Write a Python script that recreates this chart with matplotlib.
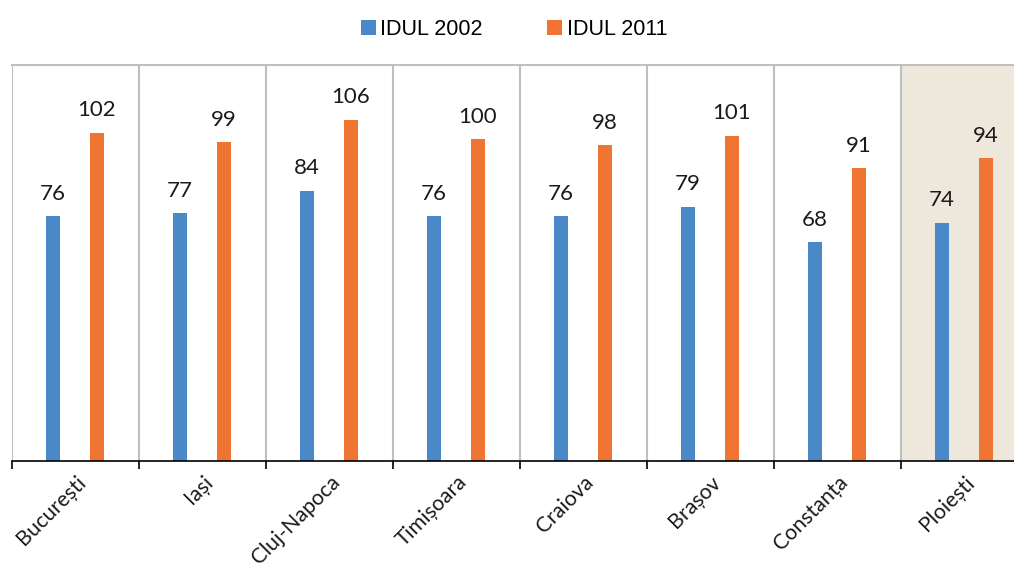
import matplotlib.pyplot as plt
import numpy as np

orase = ["București", "Iași", "Cluj-Napoca", "Timișoara", "Craiova", "Brașov", "Constanța", "Ploiești"]
idul_2002 = [76, 77, 84, 76, 76, 79, 68, 74]
idul_2011 = [102, 99, 106, 100, 98, 101, 91, 94]

albastru = "#4A89C8"
portocaliu = "#F07533"
gri = "#BFBFBF"

fig = plt.figure(figsize=(10.14, 5.70), dpi=100)
ax = fig.add_axes([12 / 1014, 109 / 570, 1016 / 1014, 396 / 570])

x = np.arange(len(orase))
latime = 0.11
b1 = ax.bar(x - 0.177, idul_2002, latime, color=albastru, label="IDUL 2002", zorder=3)
b2 = ax.bar(x + 0.169, idul_2011, latime, color=portocaliu, label="IDUL 2011", zorder=3)

# fundal pentru ultimul oras
ax.axvspan(len(orase) - 1.5, len(orase) - 0.5, color="#EEE7DC", zorder=0)

# separatoare intre categorii
for s in np.arange(-0.5, len(orase), 1.0):
    ax.axvline(s, color=gri, lw=1.5, zorder=1)

for bars in (b1, b2):
    for b in bars:
        ax.annotate(f"{b.get_height():.0f}", (b.get_x() + b.get_width() / 2, b.get_height()),
                    xytext=(0, 9), textcoords="offset points", ha="center", va="bottom",
                    fontsize=16, family="Lato", color="#1a1a1a")

ax.set_xlim(-0.5, len(orase) - 0.5)
ax.set_ylim(0, 123)
ax.set_yticks([])
for sp in ("left", "right"):
    ax.spines[sp].set_visible(False)
ax.spines["top"].set_color(gri)
ax.spines["top"].set_linewidth(1.5)
ax.spines["bottom"].set_color("black")
ax.spines["bottom"].set_linewidth(1.2)
ax.spines["bottom"].set_zorder(4)

ax.set_xticks(x)
ax.set_xticklabels(orase, rotation=45, ha="right", rotation_mode="anchor",
                   fontsize=15.3, family="Lato", color="#1a1a1a")
ax.tick_params(axis="x", which="major", length=0, pad=8)
ax.set_xticks(np.arange(-0.5, len(orase), 1.0), minor=True)
ax.tick_params(axis="x", which="minor", length=6, width=1.2, color="black")

fig.legend(handles=[b1, b2], loc="upper center", bbox_to_anchor=(0.507, 1.0), ncol=2,
           frameon=False, handlelength=0.7, handleheight=0.7,
           handletextpad=0.2, columnspacing=3.0, prop={"family": "Liberation Sans", "size": 15.5})

fig.savefig("out.png", dpi=100)
